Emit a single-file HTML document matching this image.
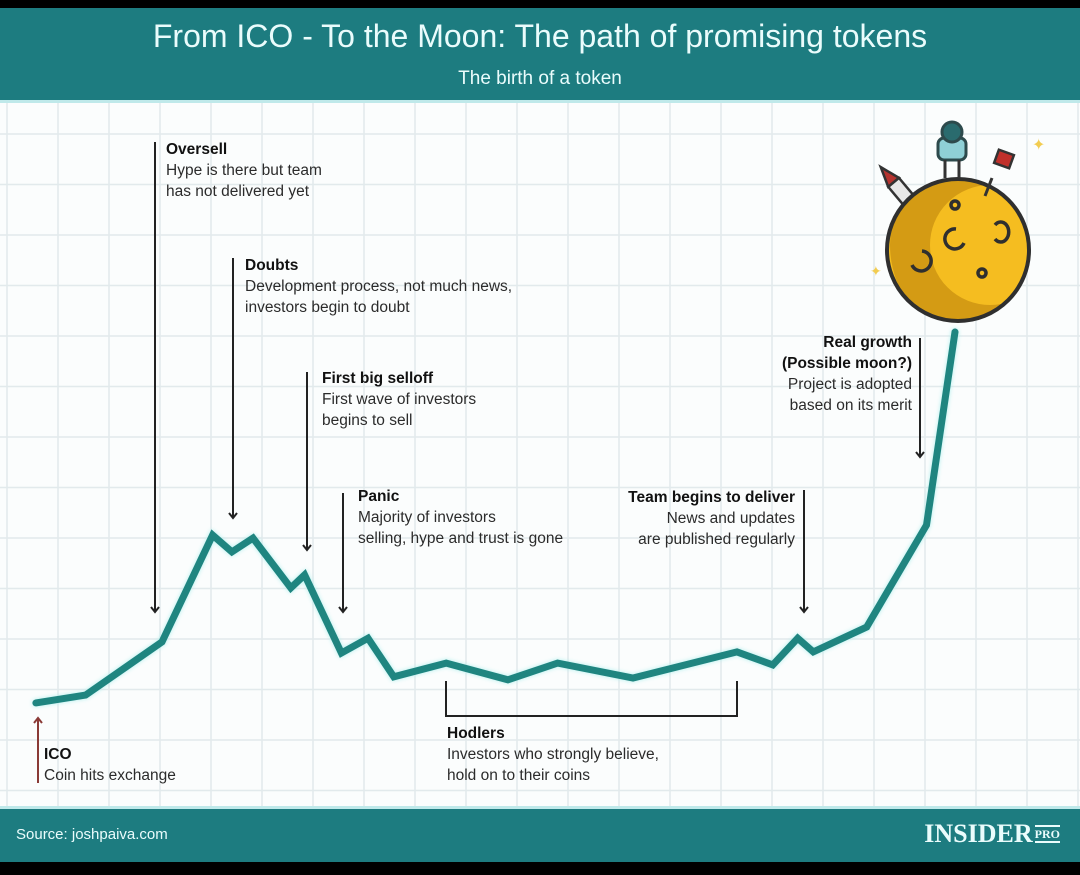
<!DOCTYPE html>
<html><head><meta charset="utf-8"><style>
html,body{margin:0;padding:0;background:#000;}
#root{position:relative;width:1080px;height:875px;background:#000;overflow:hidden;font-family:"Liberation Sans",sans-serif;}
.hdr{position:absolute;left:0;top:8px;width:1080px;height:95px;background:#1d7c80;border-bottom:3px solid #bfe9ea;box-sizing:border-box;}
.ttl{position:absolute;left:0;width:1080px;text-align:center;color:#eafcfc;}
.ftr{position:absolute;left:0;top:806px;width:1080px;height:56px;background:#1d7c80;border-top:3px solid #bfe9ea;box-sizing:border-box;}
.t{position:absolute;font-size:15.5px;line-height:21px;color:#2b2b2b;white-space:nowrap;}
.t b{color:#111;}
</style></head><body>
<div id="root">
<svg id="chart" width="1080" height="875" style="position:absolute;left:0;top:0">
 <defs><clipPath id="mc"><circle cx="958" cy="250" r="71"/></clipPath></defs>
 <rect x="0" y="100" width="1080" height="710" fill="#fbfdfd"/>
 <g id="grid"></g>
 <g id="annot"></g>
 <path id="line" fill="none" stroke="#1f8580" stroke-width="7" stroke-linejoin="miter" stroke-linecap="round" style="filter:drop-shadow(0 0 2px #aef0ee)"/>
 <g>
  <g transform="translate(900,190) rotate(-40)">
   <rect x="-7" y="-10" width="14" height="40" fill="#e8e8e8" stroke="#333" stroke-width="2.5"/>
   <path d="M-7,-10 L0,-30 L7,-10 Z" fill="#b5332f" stroke="#333" stroke-width="2.5"/>
  </g>
  <circle cx="958" cy="250" r="71" fill="#f5bd20"/>
  <circle cx="990" cy="245" r="80" fill="none" stroke="#d49b14" stroke-width="40" clip-path="url(#mc)"/>
  <circle cx="958" cy="250" r="71" fill="none" stroke="#2f2f2f" stroke-width="4"/>
  <g fill="none" stroke="#2f2f2f" stroke-width="3.5">
   <path d="M964,243 a10,10 0 1,1 -8,-14"/><path d="M912,265 a10,10 0 1,0 10,-14"/>
   <path d="M995,225 a8,10 0 1,1 0,14"/><circle cx="955" cy="205" r="4"/><circle cx="982" cy="273" r="4"/>
  </g>
  <line x1="992" y1="178" x2="985" y2="196" stroke="#333" stroke-width="3"/>
  <rect x="996" y="152" width="16" height="14" fill="#c0302b" stroke="#333" stroke-width="2.5" transform="rotate(20 1004 159)"/>
  <rect x="938" y="138" width="28" height="22" rx="6" fill="#8fd0d6" stroke="#2d4a4c" stroke-width="3"/>
  <circle cx="952" cy="132" r="10" fill="#2a6b6e" stroke="#2d4a4c" stroke-width="3"/>
  <line x1="945" y1="160" x2="945" y2="178" stroke="#333" stroke-width="3"/><line x1="959" y1="160" x2="959" y2="178" stroke="#333" stroke-width="3"/>
  <text x="1032" y="150" fill="#f2cc50" font-size="16" font-family="Liberation Sans,sans-serif">✦</text>
  <text x="870" y="276" fill="#f2cc50" font-size="14" font-family="Liberation Sans,sans-serif">✦</text>
 </g>
</svg>
<div class="hdr">
 <div class="ttl" style="top:10px;font-size:32px;">From ICO - To the Moon: The path of promising tokens</div>
 <div class="ttl" style="top:60px;font-size:19px;">The birth of a token</div>
</div>
<div class="t" style="left:166px;top:139px"><b>Oversell</b><br>Hype is there but team<br>has not delivered yet</div>
<div class="t" style="left:245px;top:255px"><b>Doubts</b><br>Development process, not much news,<br>investors begin to doubt</div>
<div class="t" style="left:322px;top:368px"><b>First big selloff</b><br>First wave of investors<br>begins to sell</div>
<div class="t" style="left:358px;top:486px"><b>Panic</b><br>Majority of investors<br>selling, hype and trust is gone</div>
<div class="t" style="right:285px;top:487px;text-align:right"><b>Team begins to deliver</b><br>News and updates<br>are published regularly</div>
<div class="t" style="right:168px;top:332px;text-align:right"><b>Real growth<br>(Possible moon?)</b><br>Project is adopted<br>based on its merit</div>
<div class="t" style="left:44px;top:744px"><b>ICO</b><br>Coin hits exchange</div>
<div class="t" style="left:447px;top:723px"><b>Hodlers</b><br>Investors who strongly believe,<br>hold on to their coins</div>
<div class="ftr">
 <div style="position:absolute;left:16px;top:17px;color:#eafcfc;font-size:15px;">Source: joshpaiva.com</div>
 <div style="position:absolute;right:20px;top:10px;color:#eafcfc;font-family:'Liberation Serif',serif;font-weight:bold;font-size:26px;">INSIDER<span style="font-size:12px;border-top:2px solid #eafcfc;border-bottom:2px solid #eafcfc;margin-left:2px;vertical-align:4px">PRO</span></div>
</div>
</div>
<script>
const timeline = [0.1,5.5,13.8,19.3,21.4,23.7,27.8,29.3,33.3,36.2,39,44.7,51.4,56.8,65,76.3,80.2,82.9,84.6,90.4,96.9,100];
const price = [0.3,2.4,16.7,45.4,40.9,44.6,31.2,34.7,13.7,17.7,7.3,11,6.5,11,7,14,10.5,17.7,14,20.7,48.1,100];
const xS = t => 35 + t*9.2;
const yS = p => 704 - p*3.72;
const NS='http://www.w3.org/2000/svg';
const grid=document.getElementById('grid');
for(let x=7;x<1080;x+=51){const l=document.createElementNS(NS,'line');l.setAttribute('x1',x);l.setAttribute('x2',x);l.setAttribute('y1',103);l.setAttribute('y2',806);l.setAttribute('stroke','#e2eaec');l.setAttribute('stroke-width','1.5');


grid.appendChild(l);}
for(let y=134;y<806;y+=50.5){const l=document.createElementNS(NS,'line');l.setAttribute('y1',y);l.setAttribute('y2',y);l.setAttribute('x1',0);l.setAttribute('x2',1080);l.setAttribute('stroke','#e2eaec');l.setAttribute('stroke-width','1.5');


grid.appendChild(l);}
document.getElementById('line').setAttribute('d',timeline.map((t,i)=>(i?'L':'M')+xS(t).toFixed(1)+','+yS(price[i]).toFixed(1)).join(' '));
const an=document.getElementById('annot');
function arrow(name,x,y1,y2,col){
 const g=document.createElementNS(NS,'g');
 
 
 const l=document.createElementNS(NS,'line');l.setAttribute('x1',x);l.setAttribute('x2',x);l.setAttribute('y1',y1);l.setAttribute('y2',y2);l.setAttribute('stroke',col);l.setAttribute('stroke-width','2');g.appendChild(l);
 const h=document.createElementNS(NS,'path');const d=y2>y1?1:-1;
 h.setAttribute('d',`M${x-4},${y2-5*d} L${x},${y2} L${x+4},${y2-5*d}`);h.setAttribute('fill','none');h.setAttribute('stroke',col);h.setAttribute('stroke-width','2');g.appendChild(h);
 an.appendChild(g);
}
arrow('oversell-arrow',155,142,612,'#222');
arrow('doubts-arrow',233,258,518,'#222');
arrow('selloff-arrow',307,372,550,'#222');
arrow('panic-arrow',343,493,612,'#222');
arrow('team-arrow',804,490,612,'#222');
arrow('growth-arrow',920,338,457,'#222');
arrow('ico-arrow',38,783,718,'#8a3a36');
const br=document.createElementNS(NS,'path');


br.setAttribute('d','M446,681 L446,716 L737,716 L737,681');br.setAttribute('fill','none');br.setAttribute('stroke','#222');br.setAttribute('stroke-width','2');an.appendChild(br);
</script>
</body></html>
